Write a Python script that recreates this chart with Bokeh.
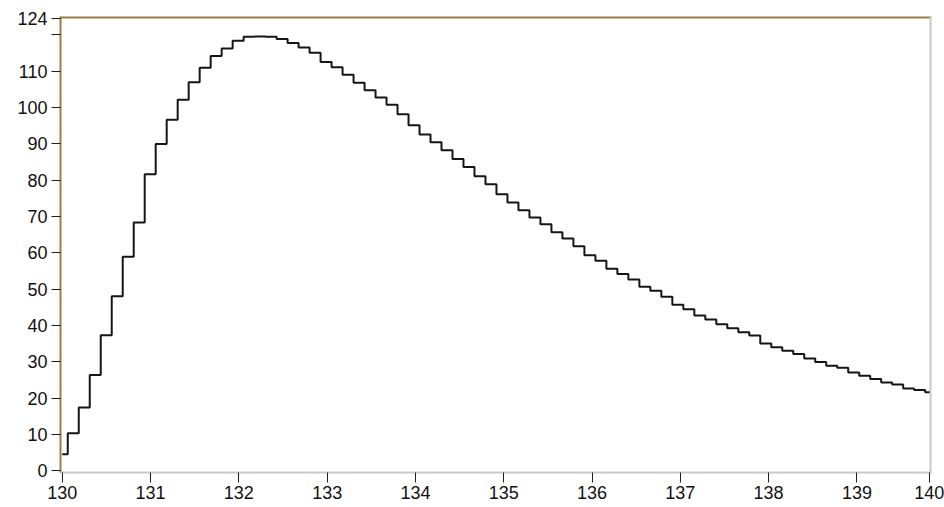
from bokeh.plotting import figure
from bokeh.models import Range1d, FixedTicker, Span
from bokeh.embed import file_html
from bokeh.resources import INLINE

# ---- data ----
x_start = 130.0
x_step = 0.1245
y_values = [4.5, 10.3, 17.4, 26.3, 37.3, 48.0, 58.9, 68.3, 81.6, 89.9,
            96.6, 102.1, 106.9, 110.9, 114.1, 116.2, 118.3, 119.4, 119.5, 119.4,
            118.8, 117.7, 116.5, 115.0, 112.5, 111.0, 109.0, 106.8, 104.7, 102.7,
            100.7, 98.1, 95.1, 92.5, 90.4, 88.2, 85.8, 83.6, 81.0, 78.8,
            76.1, 73.8, 71.7, 69.7, 67.8, 65.6, 63.9, 61.8, 59.3, 57.8,
            55.6, 54.1, 52.6, 50.6, 49.5, 47.9, 45.7, 44.4, 42.7, 41.6,
            40.3, 39.2, 38.1, 37.2, 35.0, 34.0, 33.0, 32.1, 30.9, 29.9,
            28.9, 28.3, 27.0, 26.1, 25.2, 24.3, 23.7, 22.6, 22.2, 21.6]
x_values = [x_start + i * x_step for i in range(len(y_values))]

x_ticks = [130, 131, 132, 133, 134, 135, 136, 137, 138, 139]
x_end_tick = 139.82
x_end_label = "140"
y_ticks = [0, 10, 20, 30, 40, 50, 60, 70, 80, 90, 100, 110, 120]
y_top_tick = 124.5
y_top_label = "124"

X_MIN, X_MAX = 129.98, 139.845
Y_MIN, Y_MAX = -0.5, 125.0

GOLD = "#9c7c46"
GRAY = "#c8c8c8"
FONT = "Liberation Sans"

p = figure(width=944, height=507, output_backend="svg", toolbar_location=None,
           x_range=Range1d(X_MIN, X_MAX), y_range=Range1d(Y_MIN, Y_MAX),
           min_border_left=60, min_border_right=13, min_border_top=16,
           min_border_bottom=35)
p.background_fill_color = "white"
p.border_fill_color = "white"
p.outline_line_color = None
p.grid.visible = False

p.step(x_values, y_values, mode="center", line_color="#151515", line_width=2)

# frame borders: top gold, right gray
p.add_layout(Span(location=Y_MAX, dimension="width", line_color=GOLD, line_width=4))
p.add_layout(Span(location=X_MAX, dimension="height", line_color=GRAY, line_width=4))

xa = p.xaxis[0]
xa.ticker = FixedTicker(ticks=x_ticks + [x_end_tick])
xa.major_label_overrides = {x_end_tick: x_end_label}
xa.axis_line_color = GRAY
xa.axis_line_width = 2
xa.major_tick_in = 0
xa.major_tick_out = 10
xa.major_tick_line_color = "#202020"
xa.minor_tick_line_color = None
xa.major_label_standoff = 3
xa.major_label_text_font = FONT
xa.major_label_text_font_size = "18px"
xa.major_label_text_color = "#111111"

ya = p.yaxis[0]
ya.ticker = FixedTicker(ticks=y_ticks + [y_top_tick])
ya.major_label_overrides = {120: "", y_top_tick: y_top_label}
ya.axis_line_color = GOLD
ya.axis_line_width = 2
ya.major_tick_in = 0
ya.major_tick_out = 9
ya.major_tick_line_color = "#202020"
ya.minor_tick_line_color = None
ya.major_label_standoff = 4
ya.major_label_text_font = FONT
ya.major_label_text_font_size = "18px"
ya.major_label_text_color = "#111111"

open("out.html", "w").write(file_html(p, INLINE))
